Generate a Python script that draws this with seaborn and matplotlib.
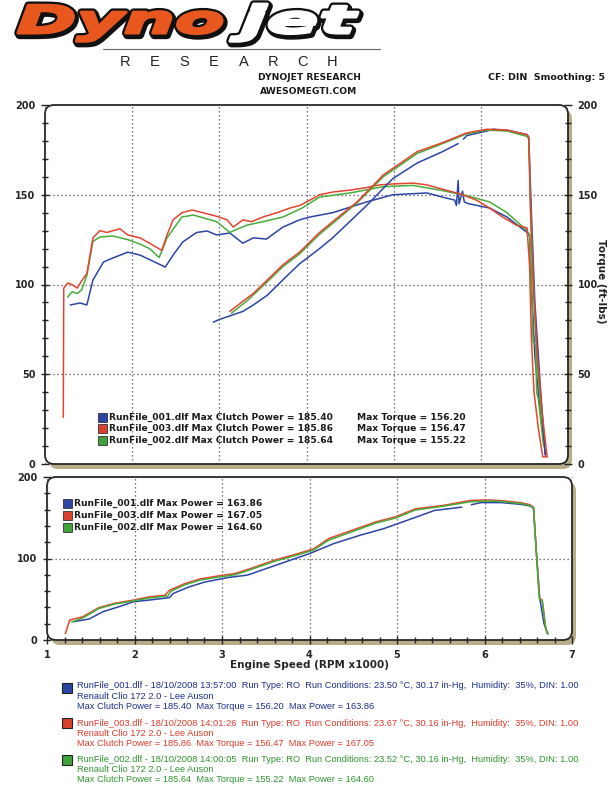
import numpy as np
import pandas as pd
import seaborn as sns
import matplotlib.pyplot as plt
from matplotlib.patches import FancyBboxPatch, Rectangle, PathPatch
from matplotlib.textpath import TextPath
from matplotlib.font_manager import FontProperties
from matplotlib.transforms import Affine2D
from matplotlib.ticker import MultipleLocator

# ---- data (rpm x1000, value) ----
# top chart: torque curves
tq_red_rpm = [1.21, 1.215, 1.26, 1.31, 1.37, 1.42, 1.48, 1.55, 1.63, 1.71, 1.78, 1.86, 1.95, 2.09, 2.20,
              2.34, 2.40, 2.47, 2.57, 2.69, 2.81, 2.97, 3.09, 3.16, 3.27, 3.37, 3.50, 3.66, 3.81, 3.92,
              4.04, 4.15, 4.30, 4.50, 4.69, 4.84, 4.99, 5.22, 5.38, 5.53, 5.76, 5.95, 6.10, 6.25, 6.41,
              6.53, 6.56, 6.58, 6.61, 6.66, 6.71, 6.76]
tq_red = [26, 98, 100.8, 100, 98, 102, 106, 126, 130, 129, 130, 131, 127.6, 126, 123,
          119, 127.6, 136, 140, 141.5, 140, 138, 136, 132, 136, 135, 137.6, 140, 142.6, 144,
          147, 150, 151.5, 152.6, 154, 155.5, 156, 156.5, 155.5, 153.5, 150.5, 147, 142.6, 137.6, 133,
          131.5, 110, 70, 40, 20, 4, 4]
tq_green_rpm = [1.26, 1.31, 1.37, 1.42, 1.48, 1.55, 1.63, 1.78, 1.95, 2.09, 2.20, 2.31, 2.40, 2.57, 2.70,
                2.97, 3.12, 3.31, 3.50, 3.73, 3.95, 4.15, 4.50, 4.88, 5.22, 5.53, 5.84, 6.10, 6.30, 6.53,
                6.56, 6.58, 6.60, 6.63, 6.64, 6.66, 6.72]
tq_green = [93, 96, 95, 97, 105, 124, 126.5, 127, 125, 122.5, 120, 115, 126, 137.6, 138.7,
            135, 129, 133, 135, 137.6, 142.6, 148.7, 151, 154.5, 155.2, 152.6, 149.5, 146, 140, 130,
            127.6, 100, 68, 66, 40, 36, 10]
tq_blue_rpm = [1.29, 1.40, 1.48, 1.55, 1.67, 1.78, 1.95, 2.09, 2.38, 2.47, 2.58, 2.74, 2.86, 2.97, 3.12,
               3.27, 3.39, 3.54, 3.73, 3.92, 4.04, 4.30, 4.69, 4.99, 5.38, 5.56, 5.70, 5.72, 5.74, 5.75,
               5.79, 5.81, 5.86, 6.10, 6.30, 6.53, 6.56, 6.58, 6.62, 6.68, 6.74]
tq_blue = [88.6, 89.7, 88.6, 102.5, 112.5, 114.8, 118, 116.4, 109.7, 116.4, 123.7, 129, 129.8, 127.6, 128.7,
           123, 126, 125.3, 132, 136, 137.6, 140, 146, 150, 151, 148.7, 147, 144, 158, 145,
           152, 146, 145, 142.6, 137.6, 129, 127, 100, 60, 30, 5]

# top chart: clutch power curves
cp_red_rpm = [3.12, 3.20, 3.32, 3.39, 3.55, 3.73, 3.92, 4.15, 4.30, 4.58, 4.88, 5.27, 5.56, 5.84, 6.07,
              6.30, 6.53, 6.55, 6.57, 6.60, 6.65, 6.70, 6.76]
cp_red = [85, 88, 92.5, 95, 102.5, 111, 118, 129, 135, 146, 161, 174, 179, 184.5, 186.5,
          186, 183.5, 182, 140, 100, 60, 30, 4]
cp_green_rpm = [3.14, 3.32, 3.55, 3.73, 3.92, 4.15, 4.30, 4.58, 4.88, 5.27, 5.56, 5.84, 6.07, 6.30, 6.53,
                6.55, 6.57, 6.60, 6.64, 6.70]
cp_green = [84, 91, 101.5, 110, 117, 128, 134, 145.5, 160, 173, 178.5, 184, 186, 185.5, 182.5,
            181, 145, 105, 60, 25]
cp_blue_rpm_a = [2.93, 3.00, 3.27, 3.39, 3.55, 3.78, 3.92, 4.15, 4.30, 4.69, 4.99, 5.27, 5.56, 5.74]
cp_blue_a = [79, 80.5, 85, 88.6, 94, 105, 111.5, 120, 126, 144, 159, 167.7, 174, 178.5]
cp_blue_rpm_b = [5.80, 5.84, 6.07, 6.14, 6.30, 6.53, 6.55, 6.58, 6.62, 6.68, 6.74]
cp_blue_b = [181, 183, 185.5, 186.5, 186, 183.5, 182, 140, 90, 45, 5]

# bottom chart: power curves
pw_red_rpm = [1.21, 1.26, 1.41, 1.59, 1.77, 1.99, 2.17, 2.35, 2.40, 2.57, 2.75, 2.98, 3.15, 3.33, 3.60,
              3.87, 4.05, 4.22, 4.49, 4.76, 4.98, 5.21, 5.52, 5.83, 6.01, 6.19, 6.41, 6.52, 6.56, 6.59,
              6.63, 6.66, 6.70, 6.72]
pw_red = [8, 24.5, 28.6, 39.6, 45, 49, 53, 55, 61, 69, 75, 79, 81.6, 87.8, 98,
          106, 112, 124.5, 134.7, 145, 151, 161, 165, 171, 172, 171, 168.6, 166, 163, 112,
          51, 49, 14, 8]
pw_green_rpm = [1.28, 1.41, 1.59, 1.77, 1.99, 2.17, 2.38, 2.42, 2.57, 2.75, 2.98, 3.15, 3.33, 3.60, 3.87,
                4.05, 4.22, 4.49, 4.76, 4.98, 5.21, 5.52, 5.83, 6.01, 6.19, 6.41, 6.52, 6.56, 6.59, 6.62,
                6.63, 6.66, 6.70, 6.73]
pw_green = [22, 27, 38.5, 44, 48, 51.5, 54, 60, 67.5, 73.5, 77.5, 80, 86.5, 96.5, 104.5,
            110.5, 122.5, 133, 143.5, 149.5, 159.5, 164, 169.5, 170.5, 170, 167.5, 165, 162, 112, 60,
            50, 48, 14, 7]
pw_blue_rpm_a = [1.30, 1.48, 1.64, 1.82, 1.99, 2.17, 2.40, 2.44, 2.62, 2.80, 3.07, 3.29, 3.51, 3.73, 4.00,
                 4.27, 4.58, 4.85, 5.12, 5.43, 5.74]
pw_blue_a = [22.4, 25.7, 34.7, 40.8, 47, 49, 52, 57, 65, 71, 76.7, 79.6, 87.8, 96, 106,
             118, 128.6, 136.7, 147, 159, 163]
pw_blue_rpm_b = [5.85, 5.96, 6.19, 6.41, 6.52, 6.56, 6.59, 6.63, 6.68, 6.72]
pw_blue_b = [166, 168.6, 168.6, 166.5, 164.5, 162, 112, 52, 20, 8]

runs = ["RunFile_001.dlf", "RunFile_003.dlf", "RunFile_002.dlf"]
max_clutch = ["185.40", "185.86", "185.64"]
max_torque = ["156.20", "156.47", "155.22"]
max_power = ["163.86", "167.05", "164.60"]
run_times = ["18/10/2008 13:57:00", "18/10/2008 14:01:26", "18/10/2008 14:00:05"]
run_temps = ["23.50", "23.67", "23.52"]
run_press = ["30.17", "30.16", "30.16"]

# plot colours / footer text colours
c_line = {"blue": "#2a45a6", "red": "#e5432e", "green": "#46ad3b"}
c_text = ["#1c2e8c", "#de3a2a", "#2d962d"]
c_box = ["#2a45a6", "#d9412c", "#3fa23a"]

sns.set_theme(style="white")
plt.rcParams["font.family"] = ["DejaVu Sans"]

W, H = 614, 800
fig = plt.figure(figsize=(W / 100, H / 100), dpi=100)
fig.patch.set_facecolor("white")


def fx(x):
    return x / W


def fy(y):
    return 1 - y / H


def add_axes_px(x0, y0, x1, y1):
    return fig.add_axes([fx(x0), fy(y1), fx(x1) - fx(x0), fy(y0) - fy(y1)])


def frame(ax):
    # rounded frame with olive drop shadow, like the dyno printout
    bb = ax.get_position()
    x0, y0, w, h = bb.x0 * W / 100, bb.y0 * H / 100, bb.width * W / 100, bb.height * H / 100
    shadow = FancyBboxPatch((x0 + 0.04, y0 - 0.05), w, h,
                            boxstyle="round,pad=0,rounding_size=0.09",
                            transform=fig.dpi_scale_trans, fc="#b7ae88", ec="none", zorder=-3)
    box = FancyBboxPatch((x0, y0), w, h, boxstyle="round,pad=0,rounding_size=0.09",
                         transform=fig.dpi_scale_trans, fc="white", ec="#262626", lw=1.3, zorder=-2)
    fig.patches.extend([shadow, box])
    ax.set_facecolor("none")
    for s in ax.spines.values():
        s.set_visible(False)


def curve(ax, x, y, color):
    sns.lineplot(x=x, y=y, ax=ax, color=c_line[color], lw=1.1, sort=False, estimator=None)


def logo_word(word, x0, x1, baseline, em, fc):
    # wide heavy italic logo lettering, stretched to the printed width (pixel coords from top)
    prop = FontProperties(family="DejaVu Sans", weight="bold", style="italic")
    tp = TextPath((0, 0), word, size=1, prop=prop)
    ext = tp.get_extents()
    tr = (Affine2D().translate(-ext.x0, 0).scale((x1 - x0) / ext.width, em)
          .translate(x0, H - baseline))
    shadow = tr + Affine2D().translate(1.5, -2)
    fig.add_artist(PathPatch(tp, transform=shadow, fc="#111", ec="#111", lw=6, joinstyle="round"))
    fig.add_artist(PathPatch(tp, transform=tr, fc="#111", ec="#111", lw=5.5, joinstyle="round"))
    fig.add_artist(PathPatch(tp, transform=tr, fc=fc, ec=fc, lw=2.2, joinstyle="round"))


grid_kw = dict(color="#4a4a5a", linestyle=(0, (1, 2.2)), linewidth=0.9)

# ---- top chart ----
ax = add_axes_px(45, 105, 568, 464)
frame(ax)
curve(ax, tq_blue_rpm, tq_blue, "blue")
curve(ax, tq_green_rpm, tq_green, "green")
curve(ax, tq_red_rpm, tq_red, "red")
curve(ax, cp_blue_rpm_a, cp_blue_a, "blue")
curve(ax, cp_blue_rpm_b, cp_blue_b, "blue")
curve(ax, cp_green_rpm, cp_green, "green")
curve(ax, cp_red_rpm, cp_red, "red")
ax.set_xlim(1, 7)
ax.set_ylim(0, 200)
ax.xaxis.set_major_locator(MultipleLocator(1))
ax.yaxis.set_major_locator(MultipleLocator(50))
ax.yaxis.set_minor_locator(MultipleLocator(10))
ax.grid(True, which="major", **grid_kw)
ax.tick_params(axis="x", which="both", bottom=False, labelbottom=False)
ax.tick_params(axis="y", which="major", direction="inout", length=6, width=1, color="#222",
               labelsize=7, pad=4, left=True)
ax.tick_params(axis="y", which="minor", direction="inout", length=5, width=1, color="#222", left=True)
for t in ax.get_yticklabels():
    t.set_fontweight("bold")
ax.set_xlabel("")
ax.set_ylabel("")

ax2 = ax.twinx()
ax2.set_ylim(0, 200)
ax2.yaxis.set_major_locator(MultipleLocator(50))
ax2.yaxis.set_minor_locator(MultipleLocator(10))
ax2.tick_params(axis="y", which="major", direction="inout", length=6, width=1, color="#222",
                labelsize=7, pad=4, right=True)
ax2.tick_params(axis="y", which="minor", direction="inout", length=5, width=1, color="#222", right=True)
for t in ax2.get_yticklabels():
    t.set_fontweight("bold")
for s in ax2.spines.values():
    s.set_visible(False)
ax2.grid(False)
fig.text(fx(601), fy(281), "Torque (ft-lbs)", rotation=270, ha="center", va="center",
         fontsize=7.5, fontweight="bold", color="#222")

# in-plot legend, top chart
for i, yy in enumerate([417, 428.5, 440]):
    fig.patches.append(Rectangle((fx(98), fy(yy + 4.5)), fx(9), 9 / H, transform=fig.transFigure,
                                 fc=c_box[i], ec="#333", lw=0.6, zorder=5))
    fig.text(fx(109), fy(yy), f"{runs[i]} Max Clutch Power = {max_clutch[i]}", fontsize=6.6,
             fontweight="bold", color="#1a1a1a", va="center", zorder=6)
    fig.text(fx(357), fy(yy), f"Max Torque = {max_torque[i]}", fontsize=6.6,
             fontweight="bold", color="#1a1a1a", va="center", zorder=6)

# ---- bottom chart ----
bx = add_axes_px(47, 477, 572, 640)
frame(bx)
curve(bx, pw_blue_rpm_a, pw_blue_a, "blue")
curve(bx, pw_blue_rpm_b, pw_blue_b, "blue")
curve(bx, pw_red_rpm, pw_red, "red")
curve(bx, pw_green_rpm, pw_green, "green")
bx.set_xlim(1, 7)
bx.set_ylim(0, 200)
bx.xaxis.set_major_locator(MultipleLocator(1))
bx.xaxis.set_minor_locator(MultipleLocator(0.2))
bx.yaxis.set_major_locator(MultipleLocator(100))
bx.yaxis.set_minor_locator(MultipleLocator(20))
bx.grid(True, which="major", **grid_kw)
bx.tick_params(axis="both", which="major", direction="inout", length=6, width=1, color="#222",
               labelsize=7, pad=4, left=True, bottom=True)
bx.tick_params(axis="both", which="minor", direction="inout", length=5, width=1, color="#222",
               left=True, bottom=True)
for t in bx.get_xticklabels() + bx.get_yticklabels():
    t.set_fontweight("bold")
bx.set_xlabel("Engine Speed (RPM x1000)", fontsize=7.5, fontweight="bold", labelpad=0)
bx.set_ylabel("")

for i, yy in enumerate([503, 515, 527]):
    fig.patches.append(Rectangle((fx(63), fy(yy + 4.5)), fx(9), 9 / H, transform=fig.transFigure,
                                 fc=c_box[i], ec="#333", lw=0.6, zorder=5))
    fig.text(fx(74), fy(yy), f"{runs[i]} Max Power = {max_power[i]}", fontsize=6.6,
             fontweight="bold", color="#1a1a1a", va="center", zorder=6)

# ---- header ----
logo_word("Dyno", 18, 222, 33, 38, "#e8581e")
logo_word("jet", 230, 358, 33, 38, "white")
fig.add_artist(plt.Line2D([fx(103), fx(380)], [fy(48.5), fy(48.5)], color="#666", lw=0.8))
for i, ch in enumerate("RESEARCH"):
    fig.text(fx(125 + i * 29.6), fy(62), ch, fontsize=10.5, color="#222", ha="center", va="center",
             family=["Liberation Sans"])
fig.text(fx(309), fy(77), "DYNOJET RESEARCH", fontsize=6.6, fontweight="bold", ha="center", va="center",
         color="#1a1a1a")
fig.text(fx(309), fy(91), "AWESOMEGTI.COM", fontsize=6.6, fontweight="bold", ha="center", va="center",
         color="#1a1a1a")
fig.text(fx(605), fy(77), "CF: DIN  Smoothing: 5", fontsize=6.8, fontweight="bold", ha="right",
         va="center", color="#1a1a1a")

# ---- footer run info ----
for i, (y0, ybox) in enumerate([(686, 688), (723, 723), (759, 760)]):
    fig.patches.append(Rectangle((fx(62), fy(ybox + 5)), fx(10), 10 / H, transform=fig.transFigure,
                                 fc=c_box[i], ec="#222", lw=0.8))
    lines = [
        f"{runs[i]} - {run_times[i]}  Run Type: RO  Run Conditions: {run_temps[i]} \u00b0C, "
        f"{run_press[i]} in-Hg,  Humidity:  35%, DIN: 1.00",
        "Renault Clio 172 2.0 - Lee Auson",
        f"Max Clutch Power = {max_clutch[i]}  Max Torque = {max_torque[i]}  Max Power = {max_power[i]}",
    ]
    for j, line in enumerate(lines):
        fig.text(fx(77), fy(y0 + j * 10.3), line, fontsize=6.7, color=c_text[i], va="center",
                 family=["Liberation Sans"])

fig.savefig("out.png", dpi=100, facecolor="white")
